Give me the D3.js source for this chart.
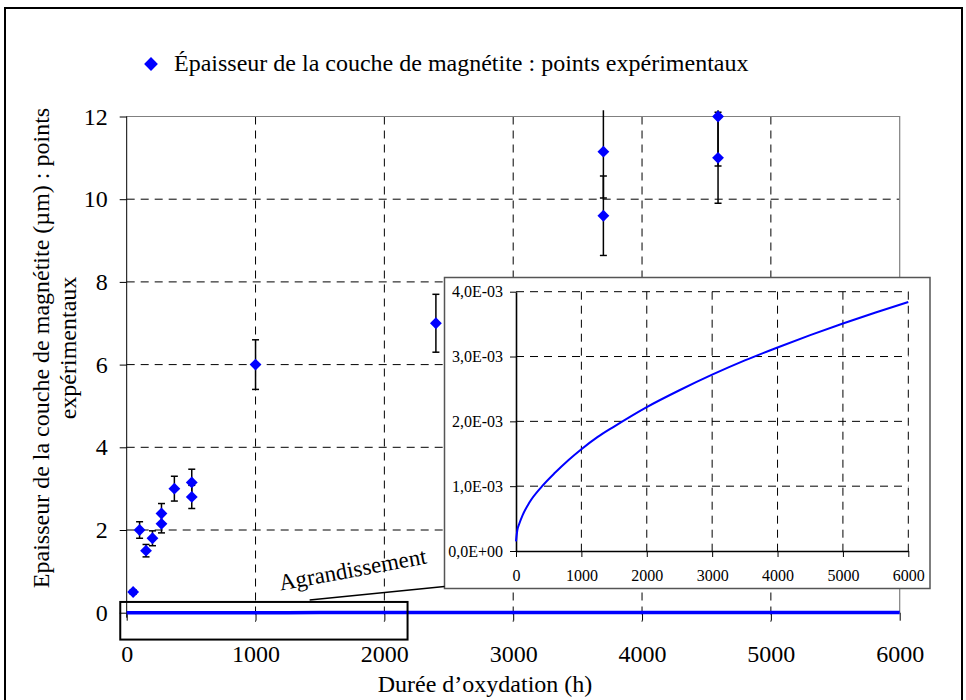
<!DOCTYPE html>
<html>
<head>
  <title>Epaisseur de magnetite</title>
  <style type="text/css">
    body { margin: 0; background: #fff; }
    svg { display: block; font-family: "Liberation Serif", "Times New Roman", serif; }
    .grid line { stroke: #000; stroke-width: 1; stroke-dasharray: 8,6; }
    .axis path, .axis line { stroke: #000; }
    .axis text { fill: #000; font-family: "Liberation Serif", "Times New Roman", serif; }
  </style>
</head>
<body>
<svg id='vis' width="966" height="700"></svg>

<script src="https://cdnjs.cloudflare.com/ajax/libs/d3/7.8.5/d3.min.js"></script>
<script type="text/javascript">
  // experimental points (h, um) and their error bars
  var hours     = [50, 100, 150, 200, 270, 270, 370, 505, 505, 1000, 2400, 3700, 3700, 4590, 4590]
  var thickness = [0.5, 2.0, 1.5, 1.8, 2.4, 2.15, 3.0, 3.15, 2.8, 6.0, 7.0, 11.15, 9.6, 12.0, 11.0]
  var errors    = [0.05, 0.2, 0.15, 0.18, 0.24, 0.22, 0.3, 0.32, 0.28, 0.6, 0.7, 1.12, 0.96, 1.2, 1.1]

  // model curve
  var modelHours = [0, 20, 50, 100, 200, 400, 600, 800, 1000, 1250, 1500, 2000, 2500, 3000, 3500, 4000, 4500, 5000, 5500, 6000]
  var modelThickness = [0.15e-3, 0.32e-3, 0.42e-3, 0.55e-3, 0.74e-3, 1.00e-3, 1.21e-3, 1.40e-3, 1.57e-3, 1.76e-3,
                        1.92e-3, 2.22e-3, 2.48e-3, 2.72e-3, 2.94e-3, 3.14e-3, 3.33e-3, 3.51e-3, 3.68e-3, 3.84e-3]

  var xTicks = [0, 1000, 2000, 3000, 4000, 5000, 6000]
  var yTicks = [0, 2, 4, 6, 8, 10, 12]
  var insetYTicks = [0, 0.001, 0.002, 0.003, 0.004]

  var legendLabel = 'Épaisseur de la couche de magnétite : points expérimentaux'
  var yTitle = ['Epaisseur de la couche de magnétite (µm) : points', 'expérimentaux']
  var xTitle = 'Durée d\u2019oxydation (h)'

  var svg = d3.select('#vis')

  // outer frame
  svg.append('rect')
    .attr('x', 5).attr('y', 8)
    .attr('width', 957).attr('height', 730)
    .attr('fill', 'none')
    .attr('stroke', '#000')
    .attr('stroke-width', 2)

  var plot = { left: 126.7, right: 899.7, top: 116.5, bottom: 612.7 }

  var xScale = d3.scaleLinear().domain([0, 6000]).range([plot.left, plot.right])
  var yScale = d3.scaleLinear().domain([0, 12]).range([plot.bottom, plot.top])

  // gridlines
  svg.append('g').attr('class', 'grid')
    .selectAll('line').data(yTicks.filter(function(d) { return d > 0 }))
    .enter().append('line')
      .attr('x1', plot.left).attr('x2', plot.right)
      .attr('y1', function(d) { return yScale(d) })
      .attr('y2', function(d) { return yScale(d) })

  svg.append('g').attr('class', 'grid')
    .selectAll('line').data(xTicks.filter(function(d) { return d > 0 && d < 6000 }))
    .enter().append('line')
      .attr('x1', function(d) { return xScale(d) })
      .attr('x2', function(d) { return xScale(d) })
      .attr('y1', plot.top).attr('y2', plot.bottom + 9)

  // plot area border (top / right)
  svg.append('path')
    .attr('d', 'M' + plot.left + ',' + plot.top + 'H' + plot.right + 'V' + plot.bottom)
    .attr('fill', 'none')
    .attr('stroke', '#808080')
    .attr('stroke-width', 1.2)

  // axes
  svg.append('g').attr('class', 'axis')
    .attr('transform', 'translate(' + plot.left + ',0)')
    .call(d3.axisLeft(yScale).tickValues(yTicks).tickSize(7).tickSizeOuter(0).tickPadding(12))
    .call(function(g) { g.select('.domain').attr('d', 'M0,' + plot.top + 'V' + (plot.bottom + 5)) })
    .selectAll('text').attr('font-size', 24)

  svg.append('g').attr('class', 'axis')
    .attr('transform', 'translate(0,' + yScale(0) + ')')
    .call(d3.axisBottom(xScale).tickValues(xTicks).tickFormat(d3.format('d'))
      .tickSize(8).tickSizeOuter(0).tickPadding(24))
    .call(function(g) { g.select('.domain').remove() })
    .selectAll('text').attr('font-size', 24)

  // model line at main scale (looks flat at 0)
  var mainLine = d3.line()
    .x(function(d, i) { return xScale(modelHours[i]) })
    .y(function(d) { return yScale(d) })
  svg.append('path')
    .datum(modelThickness)
    .attr('d', mainLine)
    .attr('fill', 'none')
    .attr('stroke', '#0000ff')
    .attr('stroke-width', 3.5)

  // error bars, clipped just above the plot area like excel does
  svg.append('clipPath').attr('id', 'clipErr')
    .append('rect')
      .attr('x', 0).attr('y', yScale(12.15))
      .attr('width', 966).attr('height', 700)

  var points = hours.map(function(h, i) { return { h: h, v: thickness[i], e: errors[i] } })

  var bars = svg.append('g')
    .attr('clip-path', 'url(#clipErr)')
    .attr('stroke', '#000')
    .attr('stroke-width', 1.5)
    .selectAll('g').data(points).enter().append('g')

  bars.append('line')
    .attr('x1', function(d) { return xScale(d.h) })
    .attr('x2', function(d) { return xScale(d.h) })
    .attr('y1', function(d) { return yScale(d.v - d.e) })
    .attr('y2', function(d) { return yScale(d.v + d.e) })
  bars.selectAll('.cap')
    .data(function(d) { return [d.v - d.e, d.v + d.e].map(function(v) { return { h: d.h, v: v } }) })
    .enter().append('line')
      .attr('class', 'cap')
      .attr('x1', function(d) { return xScale(d.h) - 3.5 })
      .attr('x2', function(d) { return xScale(d.h) + 3.5 })
      .attr('y1', function(d) { return yScale(d.v) })
      .attr('y2', function(d) { return yScale(d.v) })

  // markers: square turned 45deg
  var diamond = d3.symbol().type(d3.symbolSquare).size(70)
  svg.append('g')
    .selectAll('path').data(points).enter().append('path')
      .attr('d', diamond)
      .attr('transform', function(d) { return 'translate(' + xScale(d.h) + ',' + yScale(d.v) + ') rotate(45)' })
      .attr('fill', '#0000ff')

  // legend
  svg.append('path')
    .attr('d', d3.symbol().type(d3.symbolSquare).size(95))
    .attr('transform', 'translate(151,64) rotate(45)')
    .attr('fill', '#0000ff')
  svg.append('text')
    .attr('x', 174).attr('y', 71)
    .attr('font-size', 24)
    .text(legendLabel)

  // axis titles
  svg.append('text')
    .attr('x', 485).attr('y', 692)
    .attr('text-anchor', 'middle')
    .attr('font-size', 24)
    .text(xTitle)

  svg.append('g')
    .attr('transform', 'translate(49,348) rotate(-90)')
    .selectAll('text').data(yTitle).enter().append('text')
      .attr('x', 0)
      .attr('y', function(d, i) { return i * 27 })
      .attr('text-anchor', 'middle')
      .attr('font-size', 24)
      .text(function(d) { return d })

  // zoom box around the flat model line
  var zoomX = [-50, 2180]
  var zoomY = [-0.65, 0.26]
  svg.append('rect')
    .attr('x', xScale(zoomX[0]))
    .attr('y', yScale(zoomY[1]))
    .attr('width', xScale(zoomX[1]) - xScale(zoomX[0]))
    .attr('height', yScale(zoomY[0]) - yScale(zoomY[1]))
    .attr('fill', 'none')
    .attr('stroke', '#000')
    .attr('stroke-width', 2)

  // ---- inset ----
  var inset = { left: 516, right: 908.3, top: 291.7, bottom: 551 }
  var frame = { x: 444.5, y: 277.5, w: 485.5, h: 311 }

  svg.append('rect')
    .attr('x', frame.x).attr('y', frame.y)
    .attr('width', frame.w).attr('height', frame.h)
    .attr('fill', '#fff')
    .attr('stroke', '#555')
    .attr('stroke-width', 1.5)

  // leader line from inset to the zoom box
  svg.append('line')
    .attr('x1', frame.x).attr('y1', frame.y + frame.h - 2)
    .attr('x2', xScale(1420)).attr('y2', yScale(zoomY[1]) - 2)
    .attr('stroke', '#000')
    .attr('stroke-width', 1.5)

  svg.append('text')
    .attr('transform', 'translate(354,577) rotate(-10.5)')
    .attr('text-anchor', 'middle')
    .attr('font-size', 23)
    .text('Agrandissement')

  var ix = d3.scaleLinear().domain([0, 6000]).range([inset.left, inset.right])
  var iy = d3.scaleLinear().domain([0, 0.004]).range([inset.bottom, inset.top])

  function fmtE(v) {
    var s = v.toExponential(1).split('e')
    var exp = +s[1]
    return s[0].replace('.', ',') + 'E' + (exp < 0 ? '-' : '+') + String(Math.abs(exp)).padStart(2, '0')
  }

  svg.append('g').attr('class', 'grid')
    .selectAll('line').data(insetYTicks.filter(function(d) { return d > 0 }))
    .enter().append('line')
      .attr('x1', inset.left).attr('x2', inset.right)
      .attr('y1', function(d) { return iy(d) })
      .attr('y2', function(d) { return iy(d) })

  svg.append('g').attr('class', 'grid')
    .selectAll('line').data(xTicks.filter(function(d) { return d > 0 }))
    .enter().append('line')
      .attr('x1', function(d) { return ix(d) })
      .attr('x2', function(d) { return ix(d) })
      .attr('y1', inset.top).attr('y2', inset.bottom)

  svg.append('g').attr('class', 'axis')
    .attr('transform', 'translate(' + inset.left + ',0)')
    .call(d3.axisLeft(iy).tickValues(insetYTicks).tickFormat(fmtE).tickSize(6).tickSizeOuter(0).tickPadding(7))
    .call(function(g) { g.select('.domain').attr('stroke-width', 1.6) })
    .selectAll('text').attr('font-size', 16)

  svg.append('g').attr('class', 'axis')
    .attr('transform', 'translate(0,' + inset.bottom + ')')
    .call(d3.axisBottom(ix).tickValues(xTicks).tickFormat(d3.format('d'))
      .tickSize(6).tickSizeOuter(0).tickPadding(13))
    .call(function(g) { g.select('.domain').attr('stroke-width', 1.6) })
    .selectAll('text').attr('font-size', 16)

  var insetLine = d3.line()
    .x(function(d, i) { return ix(modelHours[i]) })
    .y(function(d) { return iy(d) })
    .curve(d3.curveMonotoneX)
  svg.append('path')
    .datum(modelThickness)
    .attr('d', insetLine)
    .attr('fill', 'none')
    .attr('stroke', '#0000ff')
    .attr('stroke-width', 2)
</script>
</body>
</html>
